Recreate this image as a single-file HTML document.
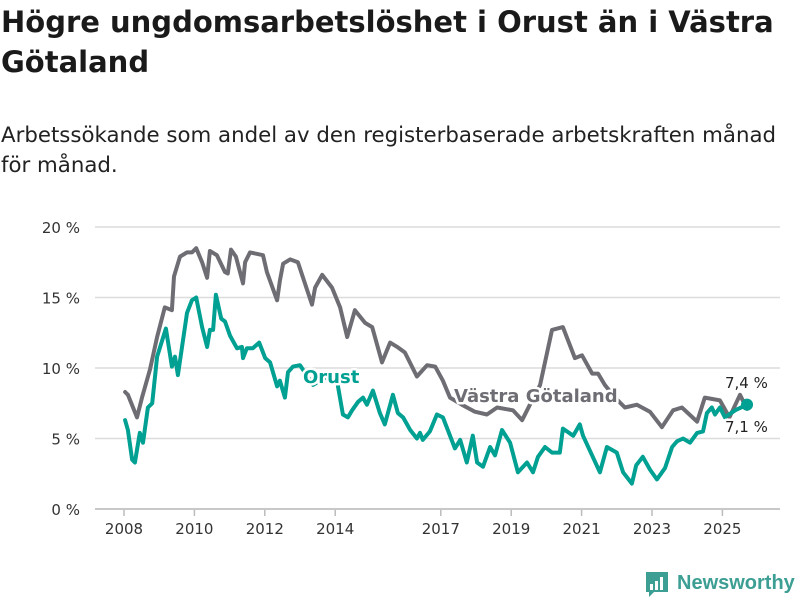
<!DOCTYPE html>
<html><head><meta charset="utf-8">
<style>
body{margin:0;background:#fff;}
#wrap{position:relative;width:800px;height:600px;overflow:hidden;font-family:"DejaVu Sans","Liberation Sans",sans-serif;color:#1a1a1a;}
h1{position:absolute;left:1px;top:2px;margin:0;font-size:29px;line-height:40px;font-weight:bold;width:800px;}
p.sub{position:absolute;left:1px;top:121px;margin:0;font-size:21.3px;line-height:30px;width:800px;color:#222;}
svg{position:absolute;left:0;top:0;}
</style></head><body>
<div id="wrap">
<h1>Högre ungdomsarbetslöshet i Orust än i Västra Götaland</h1>
<p class="sub">Arbetssökande som andel av den registerbaserade arbetskraften månad för månad.</p>
<svg id="chart" width="800" height="600"></svg>
</div>
<script>
const yTicks=[0,5,10,15,20];
const xTickYears=[2008,2010,2012,2014,2017,2019,2021,2023,2025];
const vgDates=[2008.03,2008.11,2008.37,2008.51,2008.74,2008.94,2009.16,2009.36,2009.42,2009.59,2009.79,2009.93,2010.05,2010.22,2010.36,2010.44,2010.64,2010.87,2010.95,2011.04,2011.18,2011.38,2011.44,2011.58,2011.95,2012.06,2012.35,2012.43,2012.52,2012.72,2012.94,2013.34,2013.43,2013.63,2013.91,2014.14,2014.34,2014.56,2014.85,2015.05,2015.33,2015.56,2015.76,2015.98,2016.32,2016.61,2016.84,2017.06,2017.26,2017.6,2017.97,2018.31,2018.6,2019.05,2019.31,2019.53,2019.82,2020.16,2020.47,2020.81,2021.01,2021.3,2021.47,2021.66,2021.95,2022.23,2022.57,2022.94,2023.28,2023.6,2023.85,2024.28,2024.5,2024.93,2025.2,2025.5,2025.7];
const vgValues=[8.3,8.1,6.5,7.9,9.9,12.2,14.3,14.1,16.5,17.9,18.2,18.2,18.5,17.5,16.4,18.3,18.0,16.8,16.7,18.4,17.9,16.0,17.5,18.2,18.0,16.8,14.8,16.2,17.4,17.7,17.5,14.5,15.7,16.6,15.7,14.3,12.2,14.1,13.2,12.9,10.4,11.8,11.5,11.1,9.4,10.2,10.1,9.1,7.9,7.4,6.9,6.7,7.2,7.0,6.3,7.4,8.8,12.7,12.9,10.7,10.9,9.6,9.6,8.8,7.9,7.2,7.4,6.9,5.8,7.0,7.2,6.2,7.9,7.7,6.5,8.1,7.1];
const orDates=[2008.03,2008.11,2008.23,2008.31,2008.45,2008.54,2008.68,2008.8,2008.94,2009.19,2009.36,2009.45,2009.53,2009.79,2009.93,2010.05,2010.22,2010.36,2010.44,2010.53,2010.61,2010.76,2010.87,2011.01,2011.21,2011.35,2011.38,2011.49,2011.66,2011.84,2012.01,2012.15,2012.35,2012.43,2012.57,2012.66,2012.8,2013.0,2013.37,2013.71,2014.05,2014.22,2014.36,2014.48,2014.65,2014.79,2014.9,2015.07,2015.27,2015.41,2015.64,2015.78,2015.93,2016.13,2016.32,2016.41,2016.49,2016.69,2016.89,2017.06,2017.2,2017.4,2017.55,2017.74,2017.91,2018.03,2018.2,2018.4,2018.54,2018.74,2018.97,2019.19,2019.45,2019.62,2019.76,2019.96,2020.16,2020.38,2020.47,2020.76,2020.95,2021.04,2021.52,2021.72,2022.0,2022.18,2022.43,2022.55,2022.74,2022.94,2023.14,2023.37,2023.57,2023.71,2023.88,2024.08,2024.28,2024.45,2024.56,2024.7,2024.79,2024.93,2025.07,2025.36,2025.7];
const orValues=[6.3,5.6,3.5,3.3,5.4,4.7,7.2,7.5,10.8,12.8,10.1,10.8,9.5,13.9,14.8,15.0,12.9,11.5,12.7,12.7,15.2,13.5,13.3,12.3,11.4,11.5,10.7,11.4,11.4,11.8,10.7,10.4,8.7,9.1,7.9,9.7,10.1,10.2,8.8,9.3,9.1,6.7,6.5,7.0,7.6,7.9,7.4,8.4,6.8,6.0,8.1,6.8,6.5,5.6,5.0,5.4,4.9,5.5,6.7,6.5,5.6,4.3,4.9,3.3,5.2,3.3,3.0,4.4,3.8,5.6,4.7,2.6,3.3,2.6,3.7,4.4,4.0,4.0,5.7,5.2,6.0,5.2,2.6,4.4,4.0,2.6,1.8,3.1,3.7,2.8,2.1,2.9,4.4,4.8,5.0,4.7,5.4,5.5,6.8,7.2,6.7,7.2,6.5,7.0,7.4];

const NS='http://www.w3.org/2000/svg';
const svg=document.getElementById('chart');
const x=t=>124+(t-2008)*35.2;
const y=v=>509-v*14.1;
function mk(tag,attrs,parent){const e=document.createElementNS(NS,tag);for(const k in attrs)e.setAttribute(k,attrs[k]);(parent||svg).appendChild(e);return e;}

yTicks.forEach(v=>{
  const g=mk('line',{x1:95,x2:780,y1:y(v),y2:y(v),stroke:'#dcdcdc','stroke-width':1.5});
  
  
  const t=mk('text',{x:80,y:y(v)+6,'text-anchor':'end','font-size':15,fill:'#333','font-family':'DejaVu Sans, sans-serif'});
  t.textContent=v+' %';
  
  
});
const ax=mk('line',{x1:95,x2:780,y1:y(0),y2:y(0),stroke:'#bbb','stroke-width':1.5});


xTickYears.forEach(yr=>{
  const tk=mk('line',{x1:x(yr),x2:x(yr),y1:510,y2:516,stroke:'#bbb','stroke-width':1.5});
  
  
  const t=mk('text',{x:x(yr),y:534,'text-anchor':'middle','font-size':15,fill:'#333','font-family':'DejaVu Sans, sans-serif'});
  t.textContent=yr;
  
  
});
function line(d,v,col,name){
  const p=mk('path',{d:d.map((t,i)=>(i?'L':'M')+x(t).toFixed(1)+','+y(v[i]).toFixed(1)).join(''),fill:'none',stroke:col,'stroke-width':4,'stroke-linejoin':'round','stroke-linecap':'round'});
  
  
}
line(vgDates,vgValues,'#6e6d74','line-vastra-gotaland');
line(orDates,orValues,'#00a092','line-orust');
const dot=mk('circle',{cx:x(orDates[orDates.length-1]),cy:y(orValues[orValues.length-1]),r:6,fill:'#00a092'});


function lab(tx,xx,yy,col,fs,bold,name){
  const t=mk('text',{x:xx,y:yy,fill:col,'font-size':fs,'font-weight':bold?'bold':'normal',stroke:'#fff','stroke-width':5,'paint-order':'stroke','stroke-linejoin':'round','font-family':'DejaVu Sans, sans-serif'});
  t.textContent=tx;
  
  
}
lab('Orust',303,383,'#00a092',18,true,'orust-label');
lab('Västra Götaland',454,402,'#6e6d74',18,true,'vastra-gotaland-label');
lab('7,4 %',725,388,'#222',15,false,'orust-end-value');
lab('7,1 %',725,432,'#222',15,false,'vastra-gotaland-end-value');
const lg=mk('g',{});


mk('path',{d:'M646,572 h22 v20 h-14 l-5,5 v-5 h-3 z',fill:'#3d9e94'},lg);
[[650,584,3,6],[655,581,3,9],[660,577,3,13]].forEach(r=>mk('rect',{x:r[0],y:r[1],width:r[2],height:r[3],fill:'#fff'},lg));
const lt=mk('text',{x:677,y:589,fill:'#3d9e94','font-size':20,'font-weight':'bold','font-family':'Liberation Sans, sans-serif'},lg);
lt.textContent='Newsworthy';
</script>
</body></html>
